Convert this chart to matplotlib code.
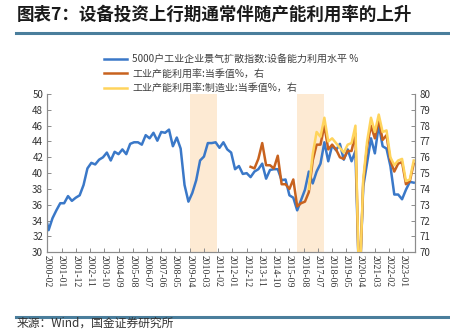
import matplotlib
matplotlib.use("Agg")
import matplotlib.pyplot as plt
import pandas as pd

plt.rcParams["font.family"] = ["Noto Sans CJK SC", "DejaVu Sans"]

title = "图表7：设备投资上行期通常伴随产能利用率的上升"
source = "来源：Wind，国金证券研究所"
labels = [
    "5000户工业企业景气扩散指数:设备能力利用水平 %",
    "工业产能利用率:当季值%，右",
    "工业产能利用率:制造业:当季值%，右",
]

tick_labels = [
    "2000-02", "2001-01", "2001-12", "2002-11", "2003-10", "2004-09", "2005-08",
    "2006-07", "2007-06", "2008-05", "2009-04", "2010-03", "2011-02", "2012-01",
    "2012-12", "2013-11", "2014-10", "2015-09", "2016-08", "2017-07", "2018-06",
    "2019-05", "2020-04", "2021-03", "2022-02", "2023-01",
]
shade_periods = [("2009-04", "2011-01"), ("2016-03", "2017-12")]

# 5000户企业设备能力利用水平（季度，左轴）
equip_first = ("2000-02", 33.6)
equip = [
    32.8, 34.3, 35.3, 36.2, 36.2, 37.1, 36.5, 36.9, 37.2, 38.5,
    40.6, 41.3, 41.1, 41.7, 42.0, 42.6, 41.6, 42.7, 42.4, 43.0,
    42.4, 43.7, 43.9, 43.9, 43.6, 44.8, 44.4, 45.1, 44.1, 45.2,
    45.1, 45.5, 43.4, 44.5, 43.1, 38.5, 36.4, 37.5, 39.1, 41.6,
    42.1, 43.8, 43.8, 43.9, 43.2, 43.9, 43.0, 42.6, 40.5, 40.9,
    39.9, 40.0, 39.5, 40.2, 40.5, 41.2, 39.3, 40.4, 40.5, 40.5,
    39.1, 39.2, 37.2, 36.9, 35.3, 36.6, 37.9, 40.2, 38.7, 40.2,
    41.2, 43.9, 41.5, 43.5, 42.9, 43.7, 41.7, 43.0, 41.5, 42.8,
    25.0, 38.3, 41.3, 44.4, 42.5, 46.1, 43.4, 43.1, 40.9, 37.3,
    37.3, 36.7, 37.9, 38.9, 38.8,
]
equip_start = "2000-03"

# 工业产能利用率（季度，右轴）
industry = [
    75.4, 75.3, 75.9, 76.9, 75.5, 75.5, 75.3, 76.1, 74.3, 74.3,
    74.0, 74.6, 72.9, 73.1, 73.2, 73.8, 75.8, 76.8, 76.8, 78.0,
    76.5, 76.8, 76.5, 76.0, 75.9, 76.4, 76.4, 77.5, 67.3, 74.4,
    76.7, 78.0, 77.2, 78.4, 77.1, 77.4, 75.8, 75.1, 75.6, 75.7,
    74.3, 74.5, 75.6,
]
industry_start = "2013-03"

# 制造业产能利用率（季度，右轴）
manuf = [
    74.0, 76.2, 77.6, 77.3, 78.5, 77.0, 77.2, 76.9, 76.6, 76.3,
    76.8, 76.9, 78.0, 67.2, 74.6, 77.0, 78.5, 77.6, 78.7, 77.6,
    77.7, 76.0, 75.5, 75.8, 75.9, 74.5, 74.6, 75.8,
]
manuf_start = "2016-12"


def month_index(d):
    ts = pd.Timestamp(d)
    return (ts.year - 2000) * 12 + ts.month - 2


def quarterly_x(start, n):
    dates = pd.date_range(start, periods=n, freq="3MS")
    return [month_index(d) for d in dates]


equip_x = [month_index(equip_first[0])] + quarterly_x(equip_start, len(equip))
equip_y = [equip_first[1]] + equip
industry_x = quarterly_x(industry_start, len(industry))
manuf_x = quarterly_x(manuf_start, len(manuf))

W, H = 450, 331
fig = plt.figure(figsize=(W / 100, H / 100), dpi=100)

# 标题与分隔线
fig.text(17 / W, 1 - 15 / H, title, fontsize=12.6, fontweight="bold",
         color="#1a1a1a", va="center", ha="left")
rule_color = "#4a7e9c"
fig.add_artist(plt.Line2D([16 / W, 1], [1 - 33 / H] * 2, color=rule_color, lw=2.2))
fig.add_artist(plt.Line2D([16 / W, 1], [1 - 316.5 / H] * 2, color=rule_color, lw=2.2))
fig.text(17 / W, 1 - 330 / H, source, fontsize=8.5, color="#333333",
         va="bottom", ha="left")

ax = fig.add_axes([47.3 / W, 1 - 252.3 / H, (415 - 47.3) / W, (252.3 - 94) / H])
ax2 = ax.twinx()

for a, b in shade_periods:
    ax.axvspan(month_index(a), month_index(b), color="#fdead3", lw=0, zorder=0)

l1, = ax.plot(equip_x, equip_y, color="#3a78c8", lw=1.8, zorder=3)
l2, = ax2.plot(industry_x, industry, color="#c8621e", lw=1.8)
l3, = ax2.plot(manuf_x, manuf, color="#ffd45c", lw=1.8)

ax.set_xlim(0, month_index("2023-10"))
ax.set_ylim(30, 50)
ax2.set_ylim(70, 80)
ax.set_yticks(range(30, 51, 2))
ax2.set_yticks(range(70, 81, 1))
ax.set_xticks([month_index(t) for t in tick_labels])
ax.set_xticklabels(tick_labels, rotation=270, fontsize=6.3,
                   family="Liberation Serif", color="#333333")

for a in (ax, ax2):
    a.spines["top"].set_visible(False)
    for s in ("left", "right", "bottom"):
        a.spines[s].set_color("#8c8c8c")
        a.spines[s].set_linewidth(0.8)
    a.tick_params(direction="in", length=3, width=0.7, color="#8c8c8c",
                  labelsize=7, labelcolor="#333333", pad=3)
ax.tick_params(axis="x", pad=2)

fig.legend([l1, l2, l3], labels, loc="upper left",
           bbox_to_anchor=(100 / W, 1 - 50 / H), frameon=False,
           fontsize=7.2, labelcolor="#404040", handlelength=2.3,
           handletextpad=0.5, labelspacing=0.45, borderaxespad=0)

fig.savefig("out.png", dpi=100)
